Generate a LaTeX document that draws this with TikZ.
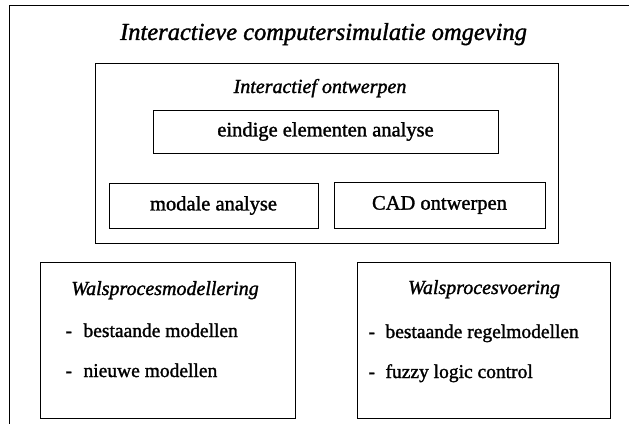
\documentclass[tikz,border=0pt]{standalone}
\usepackage{fontspec}
\setmainfont{Liberation Serif}[UprightFeatures={FakeBold=1.4},ItalicFeatures={FakeBold=1.4}]
\begin{document}
\begin{tikzpicture}[x=1pt,y=-1pt,
  frame/.style={draw=black,line width=1pt,inner sep=0pt},
  boxtext/.style={font=\fontsize{20.5}{24}\selectfont},
  ititle/.style={font=\fontsize{20}{24}\selectfont\itshape,anchor=base},
  bullet/.style={font=\fontsize{19.5}{24}\selectfont,anchor=base west}]
\useasboundingbox (0,0) rectangle (629,428);
\fill[white] (0,0) rectangle (629,428);
% outer frame (top and left sides only)
\coordinate (otr) at (629,6);
\coordinate (otl) at (9,6);
\coordinate (obl) at (9,424);
\draw[line width=1pt] (otr) -- (otl) -- (obl);
\node[font=\fontsize{24.5}{28}\selectfont\itshape,anchor=base] (title) at (323.5,40) {Interactieve computersimulatie omgeving};
% inner box
\node[frame,minimum width=463pt,minimum height=179pt] (inner) at (326.5,153.5) {};
\node[ititle] (ititle) at (320,93) {Interactief ontwerpen};
\node[frame,boxtext,minimum width=345pt,minimum height=43pt] (fem) at (325.5,131.5) {eindige elementen analyse};
\node[frame,boxtext,minimum width=209pt,minimum height=45pt] (modal) at (213.5,205.5) {modale analyse};
\node[frame,boxtext,minimum width=211pt,minimum height=46pt] (cad) at (439.5,205) {CAD ontwerpen};
% lower boxes
\node[frame,minimum width=255pt,minimum height=156pt] (model) at (167.5,340) {};
\node[ititle] (modeltitle) at (165,295) {Walsprocesmodellering};
\node[bullet] (m1) at (62,337) {\makebox[18pt][l]{-}bestaande modellen};
\node[bullet] (m2) at (62,377) {\makebox[18pt][l]{-}nieuwe modellen};
\node[frame,minimum width=253pt,minimum height=156pt] (voer) at (483.5,340) {};
\node[ititle] (voertitle) at (484,294) {Walsprocesvoering};
\node[bullet] (v1) at (365,338) {\makebox[17pt][l]{-}bestaande regelmodellen};
\node[bullet] (v2) at (365,378) {\makebox[17pt][l]{-}fuzzy logic control};
\end{tikzpicture}
\end{document}
